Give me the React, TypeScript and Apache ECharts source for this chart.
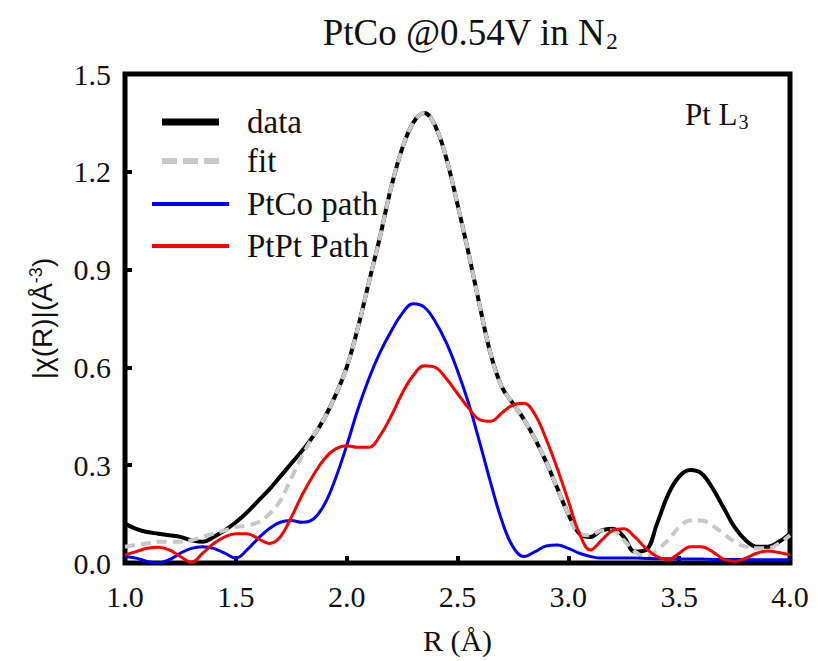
import React, { useEffect, useRef } from "react";
import * as echarts from "echarts";

const R = [1.0,1.05,1.1,1.15,1.2,1.25,1.3,1.35,1.4,1.45,1.5,1.55,1.6,1.65,1.7,1.75,1.8,1.85,1.9,1.95,2.0,2.05,2.1,2.15,2.2,2.25,2.3,2.35,2.4,2.45,2.5,2.55,2.6,2.65,2.7,2.75,2.8,2.85,2.9,2.95,3.0,3.05,3.1,3.15,3.2,3.25,3.3,3.35,3.4,3.45,3.5,3.55,3.6,3.65,3.7,3.75,3.8,3.85,3.9,3.95,4.0];

const dataVals = [0.12,0.105,0.095,0.09,0.085,0.08,0.07,0.065,0.08,0.1,0.125,0.155,0.19,0.225,0.265,0.305,0.345,0.39,0.445,0.515,0.6,0.72,0.86,1.0,1.15,1.27,1.35,1.38,1.34,1.24,1.1,0.95,0.79,0.64,0.54,0.49,0.44,0.38,0.31,0.23,0.15,0.09,0.08,0.1,0.105,0.08,0.035,0.04,0.12,0.21,0.265,0.285,0.275,0.23,0.17,0.11,0.07,0.05,0.05,0.065,0.09];

const fitVals = [0.05,0.055,0.06,0.065,0.065,0.065,0.07,0.08,0.09,0.1,0.11,0.115,0.125,0.15,0.19,0.26,0.33,0.39,0.445,0.515,0.6,0.72,0.86,1.0,1.15,1.27,1.35,1.38,1.34,1.24,1.1,0.95,0.79,0.64,0.54,0.49,0.44,0.38,0.31,0.23,0.15,0.09,0.085,0.1,0.1,0.07,0.035,0.02,0.04,0.07,0.11,0.13,0.13,0.115,0.09,0.065,0.05,0.045,0.045,0.06,0.085];

const ptcoVals = [0.02,0.015,0.005,0.0,0.01,0.03,0.045,0.05,0.045,0.03,0.015,0.04,0.075,0.105,0.125,0.13,0.125,0.135,0.18,0.26,0.36,0.47,0.565,0.645,0.71,0.765,0.795,0.785,0.74,0.675,0.59,0.49,0.37,0.245,0.13,0.05,0.02,0.035,0.052,0.055,0.045,0.03,0.02,0.015,0.015,0.015,0.015,0.014,0.013,0.013,0.012,0.012,0.012,0.011,0.011,0.011,0.01,0.01,0.01,0.01,0.01];

const ptptVals = [0.025,0.035,0.045,0.048,0.04,0.02,0.003,0.03,0.06,0.08,0.09,0.09,0.075,0.06,0.08,0.14,0.21,0.27,0.32,0.35,0.36,0.355,0.355,0.39,0.45,0.52,0.575,0.605,0.6,0.565,0.52,0.475,0.44,0.435,0.46,0.485,0.49,0.455,0.38,0.29,0.19,0.09,0.04,0.07,0.1,0.105,0.08,0.045,0.02,0.01,0.03,0.05,0.05,0.035,0.012,0.005,0.015,0.03,0.037,0.032,0.025];

const legendNames = ["data", "fit", "PtCo path", "PtPt Path"];

const SERIF = "'Liberation Serif', 'Times New Roman', serif";
const SANS = "'Liberation Sans', Arial, sans-serif";

function pairs(vals: number[]) {
  return R.map((r, i) => [r, vals[i]]);
}

export default function App() {
  const ref = useRef<HTMLDivElement>(null);
  useEffect(() => {
    if (!ref.current) return;
    const chart = echarts.init(ref.current, null, { renderer: "svg" });
    const legendY = [122, 161, 204, 246];
    const legendGraphics: any[] = [];
    const legendStyles = [
      { x1: 162, x2: 219, stroke: "#000", lineWidth: 7, lineDash: null },
      { x1: 162, x2: 219, stroke: "#c8c8c8", lineWidth: 6, lineDash: [15, 6] },
      { x1: 152, x2: 229, stroke: "#0000ff", lineWidth: 4, lineDash: null },
      { x1: 152, x2: 229, stroke: "#ff0000", lineWidth: 4, lineDash: null },
    ];
    legendNames.forEach((name, i) => {
      const s = legendStyles[i];
      legendGraphics.push({
        type: "line",
        shape: { x1: s.x1, y1: legendY[i], x2: s.x2, y2: legendY[i] },
        style: { stroke: s.stroke, lineWidth: s.lineWidth, lineDash: s.lineDash || undefined },
        z: 10,
      });
      legendGraphics.push({
        type: "text",
        x: 247,
        y: legendY[i],
        style: {
          text: name,
          fontFamily: SERIF,
          fontSize: 33,
          fill: "#111",
          verticalAlign: "middle",
        },
        z: 10,
      });
    });
    legendGraphics.push({
      type: "text",
      x: 685,
      y: 114,
      style: {
        text: "{a|Pt L}{s|3}",
        fontFamily: SERIF,
        verticalAlign: "middle",
        rich: {
          a: { fontFamily: SERIF, fontSize: 31, fill: "#111" },
          s: { fontFamily: SERIF, fontSize: 20, fill: "#111", padding: [15, 0, 0, 1] },
        },
      },
      z: 10,
    });
    legendGraphics.push({
      type: "text",
      x: 470,
      y: 32,
      style: {
        text: "{a|PtCo @0.54V in N}{s|2}",
        fontFamily: SERIF,
        align: "center",
        verticalAlign: "middle",
        rich: {
          a: { fontFamily: SERIF, fontSize: 37, fill: "#111" },
          s: { fontFamily: SERIF, fontSize: 23, fill: "#111", padding: [18, 0, 0, 1] },
        },
      },
      z: 10,
    });

    chart.setOption({
      animation: false,
      backgroundColor: "#fff",
      grid: {
        left: 125,
        right: 28,
        top: 74,
        bottom: 98,
        show: true,
        borderColor: "#000",
        borderWidth: 5,
        backgroundColor: "transparent",
      },
      xAxis: {
        type: "value",
        min: 1.0,
        max: 4.0,
        interval: 0.5,
        name: "R (Å)",
        nameLocation: "middle",
        nameGap: 62,
        nameTextStyle: { fontFamily: SERIF, fontSize: 30, color: "#111" },
        axisLine: { show: false },
        axisTick: { show: true, inside: true, length: 7, lineStyle: { color: "#000", width: 4 } },
        axisLabel: {
          margin: 18,
          fontFamily: SERIF,
          fontSize: 30,
          color: "#111",
          formatter: (v: number) => v.toFixed(1),
        },
        splitLine: { show: false },
      },
      yAxis: {
        type: "value",
        min: 0,
        max: 1.5,
        interval: 0.3,
        name: "{a||χ(R)|(Å}{s|-3}{a|)}",
        nameLocation: "middle",
        nameRotate: 90,
        nameGap: 68,
        nameTextStyle: {
          rich: {
            a: { fontFamily: SANS, fontSize: 28, color: "#111" },
            s: { fontFamily: SANS, fontSize: 18, color: "#111", padding: [0, 0, 12, 0] },
          },
        },
        axisLine: { show: false },
        axisTick: { show: true, inside: true, length: 7, lineStyle: { color: "#000", width: 4 } },
        axisLabel: {
          margin: 14,
          fontFamily: SERIF,
          fontSize: 30,
          color: "#111",
          formatter: (v: number) => v.toFixed(1),
        },
        splitLine: { show: false },
      },
      series: [
        {
          name: legendNames[0],
          type: "line",
          data: pairs(dataVals),
          smooth: 0.4,
          showSymbol: false,
          lineStyle: { color: "#000", width: 4 },
          z: 2,
        },
        {
          name: legendNames[1],
          type: "line",
          data: pairs(fitVals),
          smooth: 0.4,
          showSymbol: false,
          lineStyle: { color: "#c8c8c8", width: 4, type: [10, 6] },
          z: 3,
        },
        {
          name: legendNames[2],
          type: "line",
          data: pairs(ptcoVals),
          smooth: 0.4,
          showSymbol: false,
          lineStyle: { color: "#0000ff", width: 3 },
          z: 4,
        },
        {
          name: legendNames[3],
          type: "line",
          data: pairs(ptptVals),
          smooth: 0.4,
          showSymbol: false,
          lineStyle: { color: "#ff0000", width: 3 },
          z: 5,
        },
      ],
      graphic: legendGraphics,
    });
    return () => chart.dispose();
  }, []);
  return <div ref={ref} style={{ width: 818, height: 661, position: "absolute", left: 0, top: 0 }} />;
}
